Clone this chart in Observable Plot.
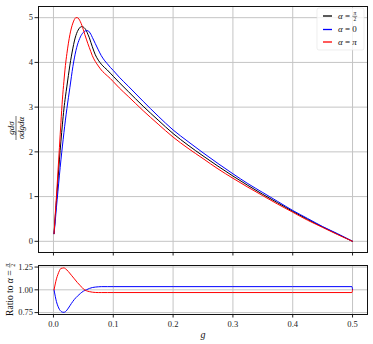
<!DOCTYPE html>
<html><head><meta charset="utf-8">
<script src="https://cdn.jsdelivr.net/npm/d3@7"></script>
<script src="https://cdn.jsdelivr.net/npm/@observablehq/plot@0.6"></script>
<style>
body{margin:0;background:#fff;}
#chart{position:relative;width:373px;height:344px;}
#chart svg{position:absolute;left:0;overflow:visible;}
</style></head><body><div id="chart"></div>
<script>
// ---- data ----
const G = [0.001,0.003,0.005,0.0075,0.01,0.0125,0.015,0.0175,0.02,0.0225,0.025,0.0275,0.03,0.0325,0.035,0.0375,0.04,0.0425,0.045,0.0475,0.05,0.0525,0.055,0.0575,0.06,0.0625,0.065,0.07,0.075,0.08,0.085,0.09,0.095,0.1,0.11,0.125,0.15,0.175,0.2,0.225,0.25,0.275,0.3,0.325,0.35,0.375,0.4,0.425,0.45,0.475,0.5];
const BLACK = [0.17,0.55,0.91,1.37,1.82,2.24,2.62,2.96,3.23,3.47,3.71,3.94,4.14,4.32,4.48,4.60,4.69,4.75,4.79,4.80,4.79,4.76,4.71,4.63,4.55,4.45,4.35,4.17,4.05,3.96,3.89,3.83,3.76,3.69,3.55,3.35,3.02,2.71,2.41,2.15,1.91,1.68,1.46,1.25,1.05,0.86,0.67,0.49,0.32,0.16,0];
const BLUE = [0.17,0.45,0.76,1.12,1.48,1.82,2.13,2.43,2.71,2.97,3.21,3.44,3.68,3.91,4.10,4.26,4.39,4.49,4.57,4.63,4.67,4.70,4.71,4.71,4.68,4.63,4.56,4.42,4.28,4.15,4.05,3.97,3.89,3.82,3.67,3.47,3.13,2.80,2.49,2.23,1.98,1.74,1.51,1.29,1.09,0.89,0.69,0.51,0.33,0.17,0];
const RED = [0.17,0.60,1.00,1.55,2.10,2.66,3.18,3.58,3.93,4.20,4.43,4.62,4.77,4.88,4.96,5.00,5.00,4.97,4.91,4.83,4.73,4.62,4.52,4.42,4.33,4.24,4.15,4.02,3.92,3.83,3.76,3.70,3.64,3.57,3.43,3.24,2.92,2.62,2.33,2.08,1.85,1.62,1.41,1.21,1.02,0.83,0.65,0.47,0.31,0.15,0];
const GR = [0.001,0.005,0.0075,0.01,0.0125,0.015,0.0175,0.02,0.025,0.03,0.035,0.04,0.045,0.05,0.055,0.06,0.065,0.07,0.075,0.08,0.09,0.1,0.2,0.3,0.4,0.499,0.5];
const RATIO_RED = [1.0,1.12,1.17,1.21,1.235,1.238,1.241,1.232,1.20,1.16,1.12,1.08,1.045,1.01,0.99,0.98,0.974,0.971,0.97,0.97,0.97,0.97,0.97,0.97,0.97,0.97,1.0];
const RATIO_BLUE = [1.0,0.87,0.82,0.785,0.765,0.755,0.753,0.76,0.80,0.85,0.895,0.93,0.96,0.985,1.0,1.015,1.025,1.03,1.033,1.035,1.035,1.035,1.035,1.035,1.035,1.035,1.0];
const X_TICKS = [0,0.1,0.2,0.3,0.4,0.5];
const Y_TICKS = [0,1,2,3,4,5];
const RATIO_TICKS = [0.75,1.0,1.25];
const LEGEND_COLORS = ["black","blue","red"];
const LEGEND_SYMBOLS = ["π/2","0","π"];

const FONT = "'Liberation Serif','DejaVu Serif',serif";
const GRID = "#c4c4c4";
const ix = (d,i) => G[i];
const rx = (d,i) => GR[i];

const mainPlot = Plot.plot({
  width:373, height:256, marginLeft:38, marginRight:6, marginTop:6, marginBottom:4,
  style:{fontFamily:FONT, fontSize:"8.5px", color:"#222", background:"transparent"},
  x:{domain:[-0.025,0.525]},
  y:{domain:[-0.25,5.25]},
  marks:[
    Plot.gridX(X_TICKS,{stroke:GRID, strokeOpacity:1}),
    Plot.gridY(Y_TICKS,{stroke:GRID, strokeOpacity:1}),
    Plot.axisX(X_TICKS,{tickSize:3.5, tickFormat:()=>"", label:null}),
    Plot.axisY(Y_TICKS,{tickSize:3.5, tickPadding:2, tickFormat:d3.format("d"), label:null}),
    Plot.line(BLACK,{x:ix, y:d=>d, stroke:"black", strokeWidth:1, curve:"monotone-x"}),
    Plot.line(BLUE,{x:ix, y:d=>d, stroke:"blue", strokeWidth:1, curve:"monotone-x"}),
    Plot.line(RED,{x:ix, y:d=>d, stroke:"red", strokeWidth:1, curve:"monotone-x"}),
    Plot.frame({stroke:"#111", strokeWidth:1})
  ]
});

const ratioPlot = Plot.plot({
  width:373, height:88, marginLeft:38, marginRight:6, marginTop:9, marginBottom:30,
  style:{fontFamily:FONT, fontSize:"8.5px", color:"#222", background:"transparent"},
  x:{domain:[-0.025,0.525]},
  y:{domain:[0.729,1.267]},
  marks:[
    Plot.gridX(X_TICKS,{stroke:GRID, strokeOpacity:1}),
    Plot.gridY(RATIO_TICKS,{stroke:GRID, strokeOpacity:1}),
    Plot.axisX(X_TICKS,{tickSize:3.5, tickPadding:3, tickFormat:d3.format(".1f"), label:null}),
    Plot.axisY(RATIO_TICKS,{tickSize:3.5, tickPadding:2, tickFormat:d3.format(".2f"), label:null}),
    Plot.line(RATIO_BLUE,{x:rx, y:d=>d, stroke:"blue", strokeWidth:1, curve:"monotone-x"}),
    Plot.line(RATIO_RED,{x:rx, y:d=>d, stroke:"red", strokeWidth:1, curve:"monotone-x"}),
    Plot.frame({stroke:"#111", strokeWidth:1})
  ]
});

const chart = document.getElementById("chart");
mainPlot.style.top = "0px";
ratioPlot.style.top = "256px";
chart.append(mainPlot, ratioPlot);

// helper: small stacked fraction
function frac(sel, cx, barY, num, den, size, italicNum) {
  const g = sel.append("g").attr("font-family", FONT).attr("fill", "#111").attr("text-anchor","middle");
  g.append("text").attr("x", cx).attr("y", barY - 1).attr("text-anchor","middle")
    .attr("font-size", size).attr("font-style", italicNum ? "italic" : "normal").text(num);
  g.append("line").attr("x1", cx - 2.4).attr("x2", cx + 2.4).attr("y1", barY).attr("y2", barY)
    .attr("stroke", "#111").attr("stroke-width", 0.5);
  g.append("text").attr("x", cx).attr("y", barY + size * 0.8).attr("text-anchor","middle")
    .attr("font-size", size).text(den);
}

// y label of main panel: g dσ / (σ dg dα)
{
  const s = d3.select(mainPlot);
  const g = s.append("g").attr("transform","translate(16,128) rotate(-90)")
    .attr("font-family", FONT).attr("font-style","italic").attr("font-size", 9).attr("fill","#111");
  g.append("text").attr("x",0).attr("y",-2.5).attr("text-anchor","middle").text("gdσ");
  g.append("line").attr("x1",-12).attr("x2",12).attr("y1",0).attr("y2",0).attr("stroke","#111").attr("stroke-width",0.6);
  g.append("text").attr("x",0).attr("y",8).attr("text-anchor","middle").text("σdgdα");
}

// legend
{
  const s = d3.select(mainPlot);
  s.append("rect").attr("x",317).attr("y",8).attr("width",47).attr("height",42).attr("rx",2)
    .attr("fill","white").attr("fill-opacity",0.8).attr("stroke","#e4e4e4").attr("stroke-opacity",0.8).attr("stroke-width",0.8);
  const rows = [16, 29.5, 42];
  LEGEND_COLORS.forEach((c, i) => {
    const y = rows[i];
    s.append("line").attr("x1",323).attr("x2",332).attr("y1",y).attr("y2",y)
      .attr("stroke", c).attr("stroke-width", 1.3);
    const t = s.append("text").attr("x",338).attr("y",y + 2.8).attr("font-family",FONT)
      .attr("text-anchor","start").attr("font-size",9).attr("fill","#111");
    t.append("tspan").attr("font-style","italic").text("α");
    t.append("tspan").text(" = ");
    const sym = LEGEND_SYMBOLS[i];
    if (sym.includes("/")) {
      const w = t.node().getComputedTextLength();
      const [n, d] = sym.split("/");
      frac(s, 338 + w + 2.5, y + 0.3, n, d, 5.5, true);
    } else {
      t.append("tspan").attr("font-style", sym === "π" ? "italic" : "normal").text(sym);
    }
  });
}

// ratio y label and x label
{
  const s = d3.select(ratioPlot);
  const g = s.append("g").attr("transform","translate(9.5,33) rotate(-90)");
  const t = g.append("text").attr("y",3.3).attr("font-family",FONT)
    .attr("text-anchor","start").attr("font-size",9.5).attr("fill","#111");
  t.append("tspan").text("Ratio to ");
  t.append("tspan").attr("font-style","italic").text("α");
  t.append("tspan").text(" = ");
  const w = t.node().getComputedTextLength();
  const x0 = -(w + 6) / 2;
  t.attr("x", x0);
  frac(g, x0 + w + 2.8, 0.3, "π", "2", 6, true);

  s.append("text").attr("x",203).attr("y",82).attr("text-anchor","middle")
    .attr("font-family",FONT).attr("font-style","italic").attr("font-size",10).attr("fill","#111").text("g");
}
</script></body></html>
